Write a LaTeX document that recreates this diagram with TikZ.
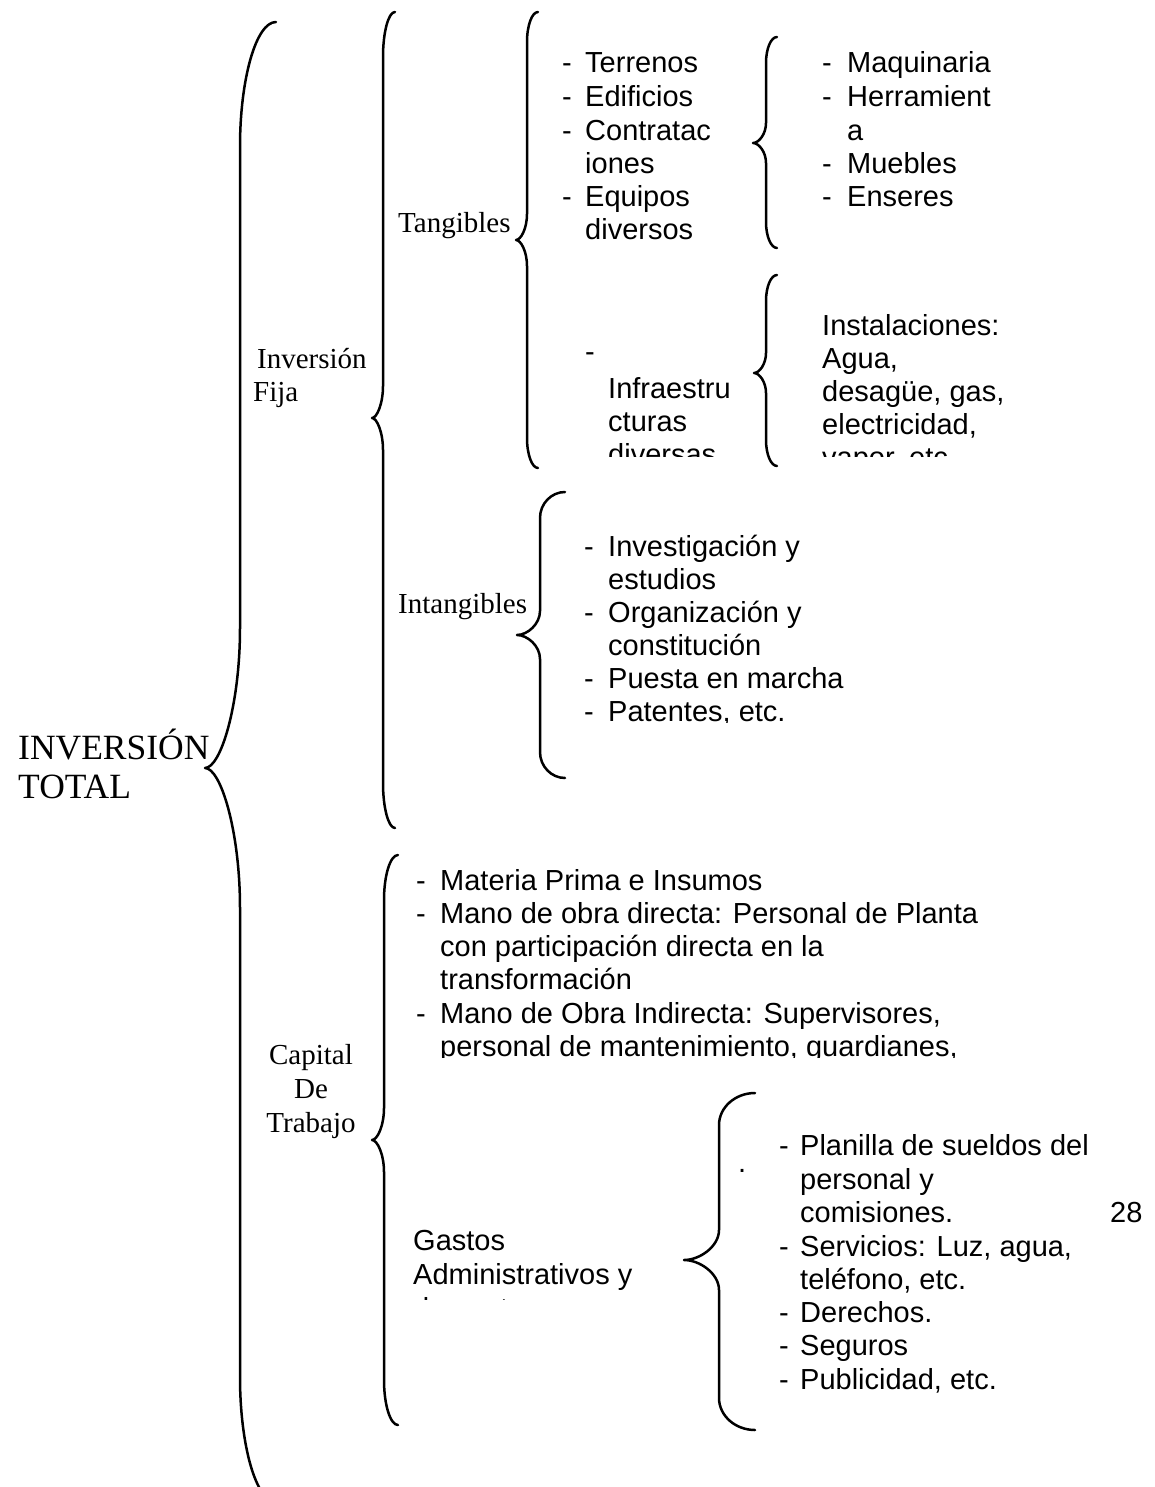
\documentclass[tikz,border=0pt]{standalone}
\usepackage{fontspec}
\setmainfont{Liberation Serif}
\newfontfamily\arialf{Liberation Sans}
% args: xend, xline, xtip, ytop, ymid, ybot, r1, r2
\newcommand\mybrace[8]{%
  \draw[brc] (#1,#4) .. controls (0.45*#1+0.55*#2,#4) and (#2,#4+0.45*#7) .. (#2,#4+#7)
    -- (#2,#5-#8)
    .. controls (#2,#5-0.45*#8) and (0.45*#2+0.55*#3,#5) .. (#3,#5)
    .. controls (0.45*#2+0.55*#3,#5) and (#2,#5+0.45*#8) .. (#2,#5+#8)
    -- (#2,#6-#7)
    .. controls (#2,#6-0.45*#7) and (0.45*#1+0.55*#2,#6) .. (#1,#6);}
\begin{document}
\begin{tikzpicture}[x=1pt,y=-1pt,
  brc/.style={line width=2.5pt, line cap=round, line join=round},
  sr/.style={font=\fontsize{29}{33}\selectfont, inner sep=0pt, anchor=base west},
  ss/.style={font=\arialf\fontsize{29}{33}\selectfont, inner sep=0pt, anchor=base west},
  big/.style={font=\fontsize{35.5}{40}\selectfont, inner sep=0pt, anchor=base west}]
\useasboundingbox (0,0) rectangle (1154,1487);

% ---------- braces ----------
\mybrace{276}{240}{205}{22}{768}{1502}{125}{140}
\mybrace{395}{383}{372}{12}{418}{828}{45}{32}
\mybrace{538}{527}{516}{12}{240}{468}{30}{26}
\mybrace{777}{766}{753}{37}{143}{248}{26}{20}
\mybrace{777}{766}{754}{275}{373}{466}{26}{20}
\mybrace{565}{540}{517}{492}{635}{778}{26}{24}
\mybrace{398}{384}{372}{855}{1140}{1425}{45}{32}
\mybrace{755}{719}{684}{1093}{1260}{1430}{32}{30}

% ---------- serif labels ----------
\node[big] (inv1) at (18,759) {INVERSIÓN};
\node[big] (inv2) at (18,798) {TOTAL};
\node[sr] (fija1) at (257,368) {Inversión};
\node[sr] (fija2) at (253,401) {Fija};
\node[sr] (tang) at (398,233) {Tangibles};
\node[sr] (intang) at (398,613) {Intangibles};
\node[sr,anchor=base] (cap1) at (311,1064) {Capital};
\node[sr,anchor=base] (cap2) at (311,1098) {De};
\node[sr,anchor=base] (cap3) at (311,1132) {Trabajo};

% ---------- Terrenos list ----------
\node[ss] (t1d) at (562,73) {-};  \node[ss] (t1) at (585,73) {Terrenos};
\node[ss] (t2d) at (562,107) {-}; \node[ss] (t2) at (585,107) {Edificios};
\node[ss] (t3d) at (562,141) {-}; \node[ss] (t3) at (585,141) {Contratac};
\node[ss] (t4) at (585,174) {iones};
\node[ss] (t5d) at (562,207) {-}; \node[ss] (t5) at (585,207) {Equipos};
\node[ss] (t6) at (585,240) {diversos};

% ---------- Maquinaria list ----------
\node[ss] (m1d) at (822,73) {-};  \node[ss] (m1) at (847,73) {Maquinaria};
\node[ss] (m2d) at (822,107) {-}; \node[ss] (m2) at (847,107) {Herramient};
\node[ss] (m3) at (847,141) {a};
\node[ss] (m4d) at (822,174) {-}; \node[ss] (m4) at (847,174) {Muebles};
\node[ss] (m5d) at (822,207) {-}; \node[ss] (m5) at (847,207) {Enseres};

% ---------- Infraestructuras / Instalaciones (clipped) ----------
\begin{scope}
\clip (560,300) rectangle (740,456);
\node[ss] (i0d) at (585,361) {-};
\node[ss] (i1) at (608,398) {Infraestru};
\node[ss] (i2) at (608,431) {cturas};
\node[ss] (i3) at (608,464) {diversas};
\end{scope}
\begin{scope}
\clip (800,300) rectangle (1100,456);
\node[ss] (n1) at (822,335) {Instalaciones:};
\node[ss] (n2) at (822,368) {Agua,};
\node[ss] (n3) at (822,401) {desagüe, gas,};
\node[ss] (n4) at (822,434) {electricidad,};
\node[ss] (n5) at (822,467) {vapor, etc.};
\end{scope}

% ---------- Intangibles list ----------
\begin{scope}
\clip (570,520) rectangle (900,722);
\node[ss] (g1d) at (584,556) {-}; \node[ss] (g1) at (608,556) {Investigación y};
\node[ss] (g2) at (608,589) {estudios};
\node[ss] (g3d) at (584,622) {-}; \node[ss] (g3) at (608,622) {Organización y};
\node[ss] (g4) at (608,655) {constitución};
\node[ss] (g5d) at (584,688) {-}; \node[ss] (g5) at (608,688) {Puesta en marcha};
\node[ss] (g6d) at (584,721) {-}; \node[ss] (g6) at (608,721) {Patentes, etc.};
\end{scope}

% ---------- Capital list ----------
\begin{scope}
\clip (400,860) rectangle (1100,1057);
\node[ss] (c1d) at (416,890) {-};  \node[ss] (c1) at (440,890) {Materia Prima e Insumos};
\node[ss] (c2d) at (416,923) {-};  \node[ss] (c2) at (440,923) {Mano de obra directa: Personal de Planta};
\node[ss] (c3) at (440,956) {con participación directa en la};
\node[ss] (c4) at (440,989) {transformación};
\node[ss] (c5d) at (416,1023) {-}; \node[ss] (c5) at (440,1023) {Mano de Obra Indirecta: Supervisores,};
\node[ss] (c6) at (440,1056) {personal de mantenimiento, guardianes,};
\end{scope}

% ---------- Gastos ----------
\begin{scope}
\clip (400,1210) rectangle (680,1299);
\node[ss] (ga1) at (413,1250) {Gastos};
\node[ss] (ga2) at (413,1284) {Administrativos y};
\node[ss] (ga3) at (413,1318) {de ventas};
\end{scope}

\node[ss] (dot) at (738,1172) {.};
\node[ss] (p1d) at (779,1155) {-}; \node[ss] (p1) at (800,1155) {Planilla de sueldos del};
\node[ss] (p2) at (800,1189) {personal y};
\node[ss] (p3) at (800,1222) {comisiones.};
\node[ss] (p4d) at (779,1256) {-}; \node[ss] (p4) at (800,1256) {Servicios: Luz, agua,};
\node[ss] (p5) at (800,1289) {teléfono, etc.};
\node[ss] (p6d) at (779,1322) {-}; \node[ss] (p6) at (800,1322) {Derechos.};
\node[ss] (p7d) at (779,1355) {-}; \node[ss] (p7) at (800,1355) {Seguros};
\node[ss] (p8d) at (779,1389) {-}; \node[ss] (p8) at (800,1389) {Publicidad, etc.};

\node[ss] (pg) at (1110,1222) {28};
\end{tikzpicture}
\end{document}
